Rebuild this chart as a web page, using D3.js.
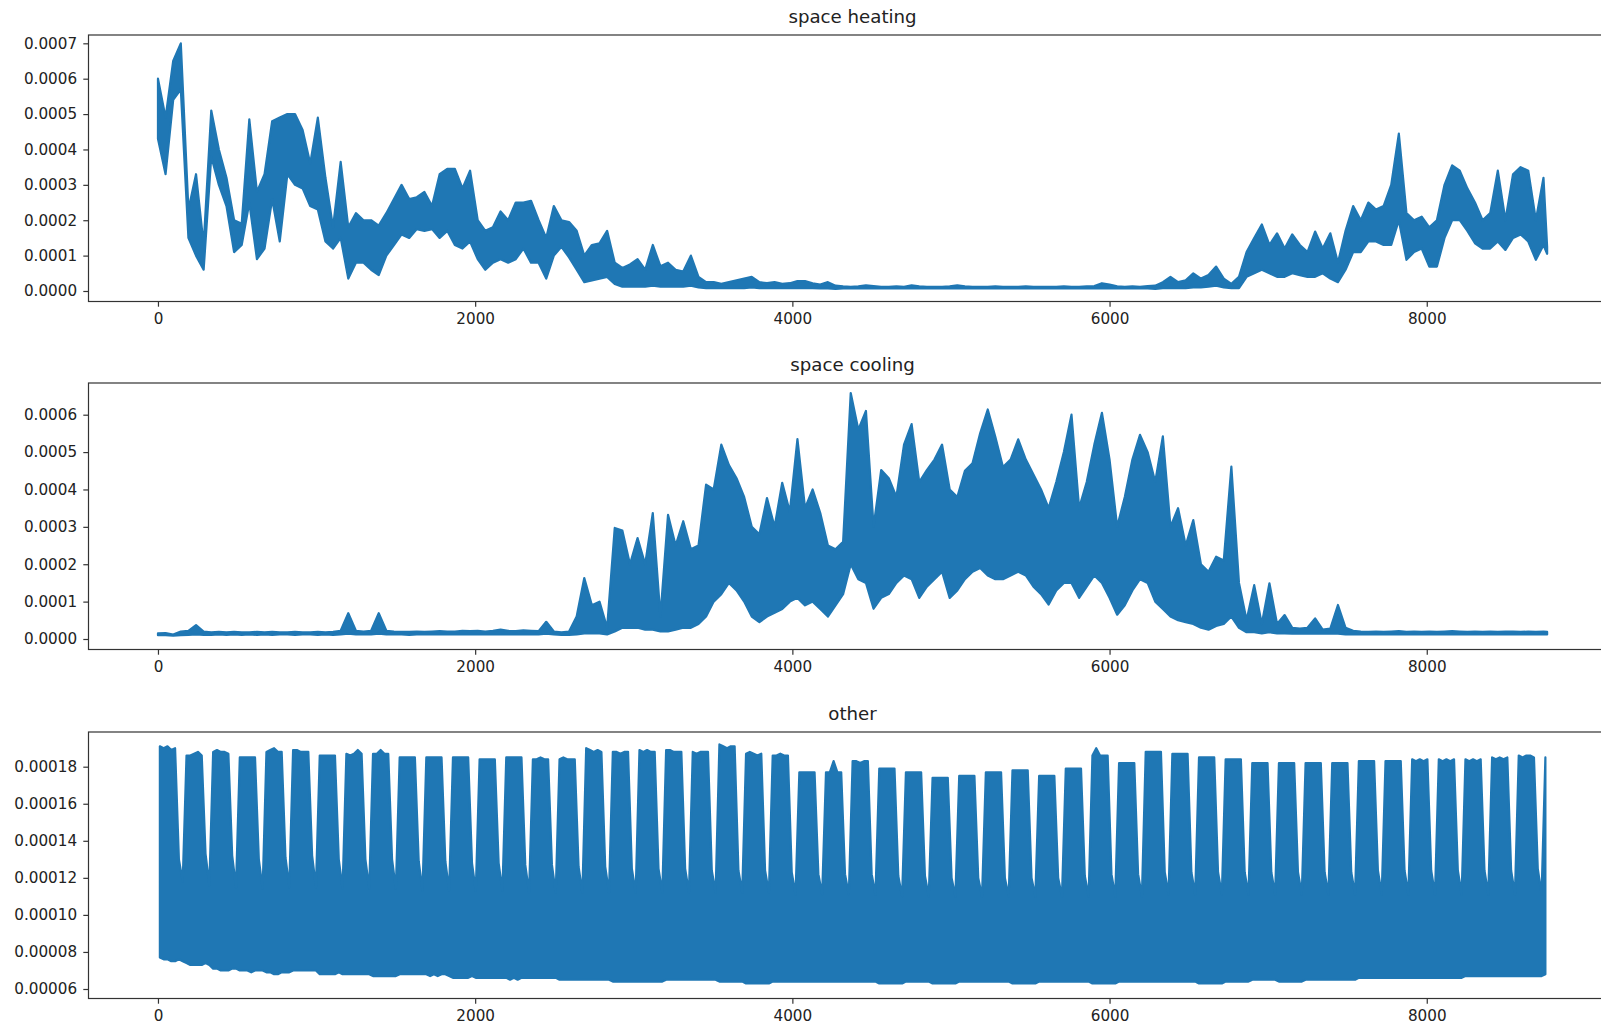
<!DOCTYPE html>
<html>
<head>
<meta charset="utf-8">
<title>Hourly load profiles</title>
<script src="https://cdn.jsdelivr.net/npm/d3@7"></script>
<style>
  html, body { margin: 0; padding: 0; background: #fff; }
  svg { display: block; }
</style>
</head>
<body>
<svg id="chart" width="1601" height="1026"></svg>
<script>
// Series values are stored in millionths (1e-6) to keep the tables compact.
const SCALE = 1e-6;

// Sample hours: heating and cooling envelopes every 48 h, "other" once per day.
const heatHours = d3.range(0, 8760, 48).concat([8759]);
const coolHours = d3.range(0, 8760, 48).concat([8759]);
const otherHours = d3.range(12, 8760, 24);

// Space heating: upper and lower envelope of the hourly profile
const heatHi = [
  600,490,650,700,230,330,130,510,400,320,
  200,190,485,280,330,480,490,500,500,455,
  360,490,320,180,365,180,220,200,200,185,
  220,260,300,260,265,280,240,330,345,345,
  290,340,200,170,180,225,200,250,250,255,
  200,150,240,200,195,170,100,130,135,170,
  80,65,75,90,60,130,70,80,60,55,
  100,40,25,25,20,25,30,35,40,25,
  22,25,20,22,28,28,22,18,25,15,
  13,12,13,16,14,12,12,13,12,16,
  13,12,12,12,13,16,13,12,12,12,
  13,12,12,12,13,12,12,12,12,13,
  12,12,13,14,22,18,13,12,13,12,
  14,15,25,40,25,30,50,35,45,69,
  35,20,40,110,150,188,130,163,120,160,
  130,110,168,120,163,80,170,240,200,250,
  230,240,300,445,220,200,210,180,200,300,
  355,340,290,250,200,220,340,200,330,350,
  340,200,320,125
];
const heatLo = [
  430,330,540,570,150,100,60,380,300,240,
  110,130,250,90,120,260,140,330,300,290,
  240,230,140,120,150,35,80,80,60,45,
  100,130,160,150,175,170,175,150,170,130,
  120,140,90,60,80,90,80,90,120,80,
  80,35,100,125,95,60,25,30,35,40,
  20,12,12,12,12,15,12,12,12,12,
  15,10,8,8,8,8,8,8,10,8,
  8,8,8,8,8,8,8,7,7,6,
  7,7,7,7,7,7,7,7,7,7,
  7,7,7,7,7,7,7,7,7,7,
  7,7,7,7,7,7,7,7,7,7,
  7,7,7,7,7,7,7,7,7,7,
  7,6,8,8,8,8,10,10,12,15,
  10,8,8,40,50,60,50,40,40,50,
  45,40,40,50,35,25,60,110,110,140,
  140,130,130,200,88,110,120,69,69,150,
  200,200,170,135,120,120,140,116,150,160,
  140,88,130,105
];

// Space cooling: upper and lower envelope of the hourly profile
const coolHi = [
  15,16,12,20,22,37,20,18,19,18,
  19,18,18,19,18,19,18,18,19,18,
  18,19,18,19,22,69,22,20,22,69,
  22,20,19,19,20,19,20,21,20,20,
  22,21,22,20,22,25,22,21,23,22,
  21,46,20,18,20,60,163,90,100,30,
  297,290,200,270,200,337,60,332,250,315,
  240,250,413,400,520,465,430,380,300,280,
  377,300,418,340,535,350,400,337,250,240,
  260,658,560,610,300,452,430,380,520,575,
  420,452,480,520,400,380,450,470,550,614,
  540,460,480,534,480,440,400,350,420,500,
  600,350,420,520,605,480,300,380,480,546,
  500,420,542,300,350,250,318,200,180,220,
  210,461,150,50,144,40,149,40,64,30,
  28,30,55,25,28,91,30,22,20,19,
  20,19,20,21,19,20,19,20,19,20,
  21,20,19,20,19,20,19,20,20,19,
  20,19,20,19
];
const coolLo = [
  10,10,9,10,11,12,11,11,12,11,
  12,11,12,11,12,11,12,12,11,12,
  12,11,12,11,12,14,12,12,12,14,
  12,12,12,11,12,12,12,12,12,12,
  12,12,12,12,12,13,12,12,12,12,
  12,14,12,11,11,12,15,15,15,12,
  20,30,30,30,25,25,20,20,25,30,
  30,40,60,100,120,150,130,100,60,45,
  60,70,80,100,110,90,100,80,60,90,
  120,200,160,150,81,110,120,150,170,160,
  110,140,160,180,110,130,160,180,190,170,
  160,160,170,180,170,140,120,92,130,150,
  150,110,140,170,150,110,65,90,130,160,
  150,100,80,60,50,45,40,30,25,35,
  40,60,30,18,18,15,18,15,15,14,
  14,14,14,14,14,14,12,12,12,12,
  12,12,12,12,12,12,12,12,12,12,
  12,12,12,12,12,12,12,12,12,12,
  12,12,12,12
];

// Other loads: daily peak and overnight minimum, one row per week (Mon..Sun)
const otherHi = [
  191,190,191,189,190,130,118,
  186,186,187,188,186,133,116,
  188,189,188,188,187,132,115,
  185,185,185,185,185,130,114,
  188,189,190,188,188,131,115,
  189,189,188,188,188,132,115,
  186,186,186,186,186,130,114,
  187,186,187,189,187,130,114,
  187,187,189,187,187,130,114,
  185,185,185,185,185,129,113,
  185,185,185,185,185,129,113,
  185,185,185,185,185,128,113,
  184,184,184,184,184,128,113,
  185,185,185,185,185,127,112,
  184,184,185,184,184,127,112,
  184,185,184,184,184,126,112,
  190,189,188,189,188,126,112,
  188,188,187,188,188,125,112,
  189,188,189,188,188,125,112,
  189,189,188,188,188,125,112,
  188,187,188,188,188,124,112,
  192,191,190,191,191,124,112,
  187,188,187,186,187,124,112,
  186,186,187,186,186,123,111,
  177,177,177,177,177,122,111,
  177,177,183,177,177,122,111,
  183,183,182,183,183,122,111,
  179,179,179,179,179,121,110,
  177,177,177,177,177,121,110,
  174,174,174,174,174,120,110,
  175,175,175,175,175,120,110,
  177,177,177,177,177,120,110,
  178,178,178,178,178,120,110,
  175,175,175,175,175,120,110,
  179,179,179,179,179,121,110,
  186,190,186,186,186,122,110,
  182,182,182,182,182,122,110,
  188,188,188,188,188,123,111,
  187,187,187,187,187,123,111,
  185,185,185,185,185,123,111,
  184,184,184,184,184,123,111,
  182,182,182,182,182,123,111,
  182,182,182,182,182,123,111,
  182,182,182,182,182,123,111,
  182,182,182,182,182,123,111,
  183,183,183,183,183,124,111,
  183,183,183,183,183,124,111,
  184,183,184,183,184,124,111,
  184,183,184,183,184,124,111,
  184,183,184,183,184,124,111,
  185,184,185,184,185,124,111,
  186,185,186,186,185,125,111,
  185
];
const otherLo = [
  77,76,76,75,75,76,75,
  74,73,73,73,73,74,73,
  71,71,70,70,70,71,71,
  70,70,70,69,70,70,70,
  69,69,68,68,69,69,69,
  70,70,70,70,70,70,70,
  68,68,68,68,68,69,68,
  68,68,68,68,68,68,68,
  67,67,67,67,67,67,67,
  68,68,68,68,68,68,68,
  68,67,68,67,68,68,67,
  66,66,66,66,66,67,66,
  66,66,66,66,66,66,66,
  66,65,66,65,66,66,66,
  66,66,66,66,66,66,66,
  65,65,65,65,65,65,65,
  65,65,65,65,65,65,65,
  64,64,64,64,64,64,64,
  64,64,64,64,64,64,64,
  65,65,65,65,65,65,65,
  65,65,65,65,65,65,65,
  64,64,64,64,64,64,64,
  63,63,63,63,63,63,63,
  64,64,64,64,64,64,64,
  64,64,64,64,64,64,64,
  64,64,64,64,64,64,64,
  64,64,64,64,64,64,64,
  63,63,63,63,63,63,63,
  64,64,64,64,64,64,64,
  63,63,63,63,63,63,63,
  64,64,64,64,64,64,64,
  64,64,64,64,64,64,64,
  63,63,63,63,63,63,63,
  64,64,64,64,64,64,64,
  64,64,64,64,64,64,64,
  63,63,63,63,63,63,63,
  64,64,64,64,64,64,64,
  64,64,64,64,64,64,64,
  64,64,64,64,64,64,64,
  63,63,63,63,63,63,63,
  64,64,64,64,64,64,64,
  65,65,65,65,65,65,65,
  64,64,64,64,64,64,64,
  65,65,65,65,65,65,65,
  65,65,65,65,65,65,65,
  66,66,66,66,66,66,66,
  66,66,66,66,66,66,66,
  66,66,66,66,66,66,66,
  66,66,66,66,66,66,66,
  67,67,67,67,67,67,67,
  67,67,67,67,67,67,67,
  67,67,67,67,67,67,67,
  68
];

// Tick labels
const xTickValues = [0, 2000, 4000, 6000, 8000];
const heatTickValues = [0, 0.0001, 0.0002, 0.0003, 0.0004, 0.0005, 0.0006, 0.0007];
const coolTickValues = [0, 0.0001, 0.0002, 0.0003, 0.0004, 0.0005, 0.0006];
const otherTickValues = [0.00006, 0.00008, 0.00010, 0.00012, 0.00014, 0.00016, 0.00018];

const panels = [
  { title: "space heating", hours: heatHours, hi: heatHi, lo: heatLo,
    top: 35, yDomain: [-0.0000297, 0.0007235], ticks: heatTickValues, fmt: ".4f" },
  { title: "space cooling", hours: coolHours, hi: coolHi, lo: coolLo,
    top: 383, yDomain: [-0.0000281, 0.0006848], ticks: coolTickValues, fmt: ".4f" },
  { title: "other", hours: otherHours, hi: otherHi, lo: otherLo,
    top: 732, yDomain: [0.00005487, 0.00019873], ticks: otherTickValues, fmt: ".5f" }
];

const FONT = "'DejaVu Sans', 'Liberation Sans', sans-serif";
const LINE = "#1f77b4";
const INK = "#222";
const left = 88.5, right = 1616.6, plotH = 266.5;
const tickLen = 5.2, tickPad = 6.2;

const svg = d3.select("#chart");
svg.append("rect").attr("width", 1601).attr("height", 1026).attr("fill", "#fff");

// Hours of the year, with the usual 5% margin either side of 0..8759
const x = d3.scaleLinear().domain([-438, 9197]).range([left, right]);

panels.forEach((p, k) => {
  const g = svg.append("g").attr("class", "panel");
  const bottom = p.top + plotH;
  const y = d3.scaleLinear().domain(p.yDomain).range([bottom, p.top]);

  const rows = p.hours.map((h, i) => ({ h, hi: p.hi[i] * SCALE, lo: p.lo[i] * SCALE }));

  const clipId = "plot-clip-" + k;
  g.append("clipPath").attr("id", clipId)
    .append("rect").attr("x", left).attr("y", p.top)
    .attr("width", right - left).attr("height", plotH);

  // The hourly line swings between its daily low and high, so it reads as a band
  const band = d3.area()
    .x(d => x(d.h))
    .y0(d => y(d.lo))
    .y1(d => y(d.hi));

  g.append("path")
    .datum(rows)
    .attr("d", band)
    .attr("fill", LINE)
    .attr("stroke", LINE)
    .attr("stroke-width", 2.2)
    .attr("stroke-linejoin", "round")
    .attr("clip-path", `url(#${clipId})`);

  // Axes frame
  g.append("rect")
    .attr("x", left).attr("y", p.top)
    .attr("width", right - left).attr("height", plotH)
    .attr("fill", "none").attr("stroke", "#333").attr("stroke-width", 1.2);

  const xAxis = g.append("g")
    .attr("transform", `translate(0,${bottom})`)
    .style("color", INK)
    .call(d3.axisBottom(x).tickValues(xTickValues).tickFormat(d3.format("d"))
      .tickSize(tickLen).tickPadding(tickPad));
  xAxis.select(".domain").remove();

  const yAxis = g.append("g")
    .attr("transform", `translate(${left},0)`)
    .style("color", INK)
    .call(d3.axisLeft(y).tickValues(p.ticks).tickFormat(d3.format(p.fmt))
      .tickSize(tickLen).tickPadding(tickPad));
  yAxis.select(".domain").remove();

  g.selectAll(".tick line").attr("stroke", "#333").attr("stroke-width", 1.2);
  g.selectAll(".tick text")
    .attr("font-family", FONT)
    .attr("font-size", 15.2)
    .attr("fill", INK);

  g.append("text")
    .attr("x", (left + right) / 2)
    .attr("y", p.top - 12.5)
    .attr("text-anchor", "middle")
    .attr("font-family", FONT)
    .attr("font-size", 18.2)
    .attr("fill", INK)
    .text(p.title);
});
</script>
</body>
</html>
